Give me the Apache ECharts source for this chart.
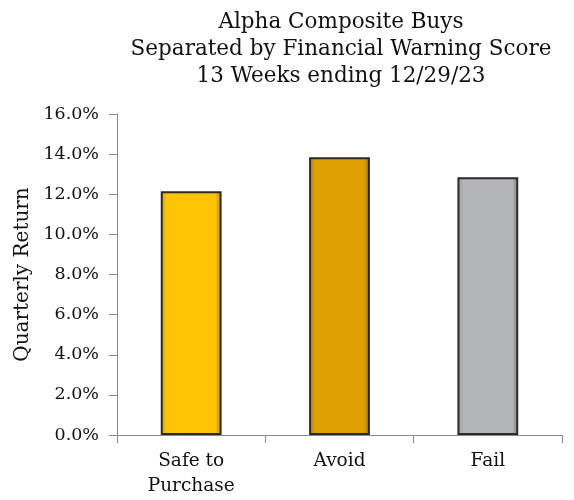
<!DOCTYPE html>
<html><head><meta charset="utf-8">
<script src="https://cdn.jsdelivr.net/npm/echarts@6/dist/echarts.min.js"></script>
<style>html,body{margin:0;padding:0;background:#fff}#c{width:574px;height:500px}</style>
</head><body><div id="c"></div>
<script>
const titleLines = ["Alpha Composite Buys", "Separated by Financial Warning Score", "13 Weeks ending 12/29/23"];
const categories = ["Safe to\nPurchase", "Avoid", "Fail"];
const values = [12.15, 13.85, 12.85];
const barColors = ["#FFC403", "#DFA004", "#B3B5B8"];
const yTicks = [0, 2, 4, 6, 8, 10, 12, 14, 16];
const yName = "Quarterly Return";

const font = "DejaVu Serif";
const chart = echarts.init(document.getElementById('c'), null, {renderer: 'canvas'});
function shade(hex, f) {
  const n = parseInt(hex.slice(1), 16);
  let r = (n >> 16) & 255, g = (n >> 8) & 255, b = n & 255;
  const m = v => Math.max(0, Math.min(255, Math.round(f > 0 ? v + (255 - v) * f : v * (1 + f))));
  return 'rgb(' + m(r) + ',' + m(g) + ',' + m(b) + ')';
}
chart.setOption({
  animation: false,
  title: {
    text: titleLines.join("\n"),
    left: 336, top: 4, textAlign: 'center',
    textStyle: {fontFamily: font, fontSize: 21.5, fontWeight: 'normal', color: '#111', lineHeight: 27}
  },
  grid: {left: 117, right: 12, top: 114, bottom: 65, containLabel: false},
  xAxis: {
    type: 'category', data: categories,
    axisLine: {lineStyle: {color: '#888', width: 1}},
    axisTick: {show: true, length: 8, lineStyle: {color: '#888'}},
    axisLabel: {fontFamily: font, fontSize: 18.5, color: '#111', lineHeight: 25, margin: 14}
  },
  yAxis: {
    type: 'value', min: yTicks[0], max: yTicks[yTicks.length - 1], interval: 2,
    name: yName, nameLocation: 'middle', nameGap: 83, nameRotate: 90,
    nameTextStyle: {fontFamily: font, fontSize: 20, color: '#111'},
    axisLine: {show: true, lineStyle: {color: '#888', width: 1}},
    axisTick: {show: true, length: 8, lineStyle: {color: '#888'}},
    splitLine: {show: false},
    axisLabel: {fontFamily: font, fontSize: 17.5, color: '#111', margin: 18,
      formatter: v => v.toFixed(1) + '%'}
  },
  series: [{
    type: 'bar', barWidth: '41%',
    data: values.map((v, i) => ({
      value: v,
      itemStyle: {
        color: {type: 'linear', x: 0, y: 0, x2: 1, y2: 0, colorStops: [
          {offset: 0, color: shade(barColors[i], -0.15)},
          {offset: 0.1, color: barColors[i]},
          {offset: 0.9, color: barColors[i]},
          {offset: 1, color: shade(barColors[i], -0.3)}
        ]},
        borderColor: '#2a2a2a', borderWidth: 2
      }
    }))
  }]
});
</script></body></html>
